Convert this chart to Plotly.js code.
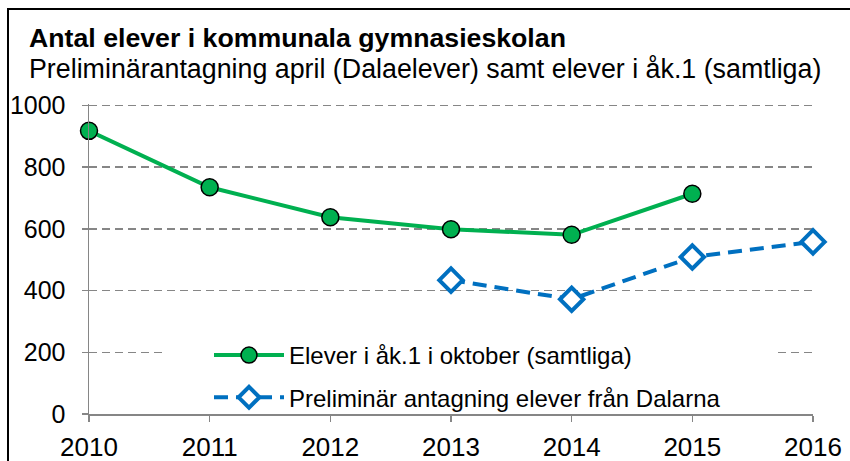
<!DOCTYPE html>
<html>
<head>
<meta charset="utf-8">
<script src="https://cdn.plot.ly/plotly-3.0.1.min.js"></script>
<style>
html,body{margin:0;padding:0;background:#fff;}
#chart{width:850px;height:461px;}
</style>
</head>
<body>
<div id="chart"></div>
<script>
const years = [2010, 2011, 2012, 2013, 2014, 2015, 2016];
const eleverYears = [2010, 2011, 2012, 2013, 2014, 2015];
const eleverValues = [918, 735, 638, 599, 581, 714];
const antagningYears = [2013, 2014, 2015, 2016];
const antagningValues = [434, 372, 509, 558];
const yTicks = [0, 200, 400, 600, 800, 1000];
const seriesNames = ['Elever i åk.1 i oktober (samtliga)', 'Preliminär antagning elever från Dalarna'];
const titleText = 'Antal elever i kommunala gymnasieskolan';
const subtitleText = 'Preliminärantagning april (Dalaelever) samt elever i åk.1 (samtliga)';

const FONT = 'Liberation Sans, Arial, sans-serif';
const gridColor = '#868686';

const traces = [
  {
    x: eleverYears, y: eleverValues, name: seriesNames[0],
    type: 'scatter', mode: 'lines+markers', legendgroup: 'a',
    line: {color: '#00b050', width: 4},
    marker: {symbol: 'circle', size: 17, color: '#00b050', line: {color: '#000', width: 1.5}},
    cliponaxis: false
  },
  {
    x: antagningYears, y: antagningValues, name: seriesNames[1],
    type: 'scatter', mode: 'lines+markers', legendgroup: 'b',
    line: {color: '#0070c0', width: 4, dash: '14px,8px'},
    marker: {symbol: 'diamond', size: 18, color: '#fff', line: {color: '#0070c0', width: 4}},
    cliponaxis: false
  }
];

const layout = {
  width: 850, height: 461,
  margin: {l: 89, r: 37, t: 104, b: 47},
  paper_bgcolor: '#fff', plot_bgcolor: '#fff',
  font: {family: FONT, size: 24, color: '#000'},
  title: {
    text: '<b>' + titleText + '</b>',
    font: {family: FONT, size: 26.7, color: '#000'},
    xref: 'container', x: 29 / 850, xanchor: 'left',
    yref: 'container', y: 1 - 38 / 461, yanchor: 'middle'
  },
  annotations: [{
    text: subtitleText, showarrow: false,
    font: {family: FONT, size: 26.8, color: '#000'},
    xref: 'paper', x: (27 - 89) / 724, xanchor: 'left',
    yref: 'paper', y: (414 - 69) / 310, yanchor: 'middle'
  }],
  xaxis: {
    range: [2010, 2016], tickvals: years, ticktext: years.map(String),
    showgrid: false, zeroline: false,
    showline: true, linecolor: gridColor, linewidth: 1.5,
    ticks: 'outside', ticklen: 6, tickcolor: gridColor, tickwidth: 1.5,
    ticklabelstandoff: 3,
    tickfont: {family: FONT, size: 26, color: '#000'}
  },
  yaxis: {
    range: [0, 1005], tickvals: yTicks,
    showgrid: true, gridcolor: gridColor, gridwidth: 1.5, griddash: '8px,5px',
    zeroline: false,
    showline: true, linecolor: gridColor, linewidth: 1.5,
    ticks: 'outside', ticklen: 6, tickcolor: gridColor, tickwidth: 1.5,
    ticklabelstandoff: 11,
    tickfont: {family: FONT, size: 25, color: '#000'}
  },
  showlegend: true,
  legend: {
    x: (209 - 89) / 724, xanchor: 'left',
    y: (414 - 333) / 310, yanchor: 'top',
    bgcolor: 'rgba(0,0,0,0)', borderwidth: 0,
    itemwidth: 70, tracegroupgap: 8,
    traceorder: 'grouped',
    font: {family: FONT, size: 24, color: '#000'}
  },
  shapes: [
    {
      type: 'rect', xref: 'x', yref: 'y',
      x0: 2010.63, x1: 2015.69, y0: 30, y1: 290,
      fillcolor: '#fff', line: {width: 0}, layer: 'above'
    },
    {
      type: 'rect', xref: 'paper', yref: 'paper',
      x0: (8 - 89) / 724, x1: 2, y0: (414 - 9) / 310, y1: -1,
      line: {color: '#000', width: 2}, fillcolor: 'rgba(0,0,0,0)', layer: 'above'
    }
  ]
};

Plotly.newPlot('chart', traces, layout, {staticPlot: true, displayModeBar: false});
</script>
</body>
</html>
